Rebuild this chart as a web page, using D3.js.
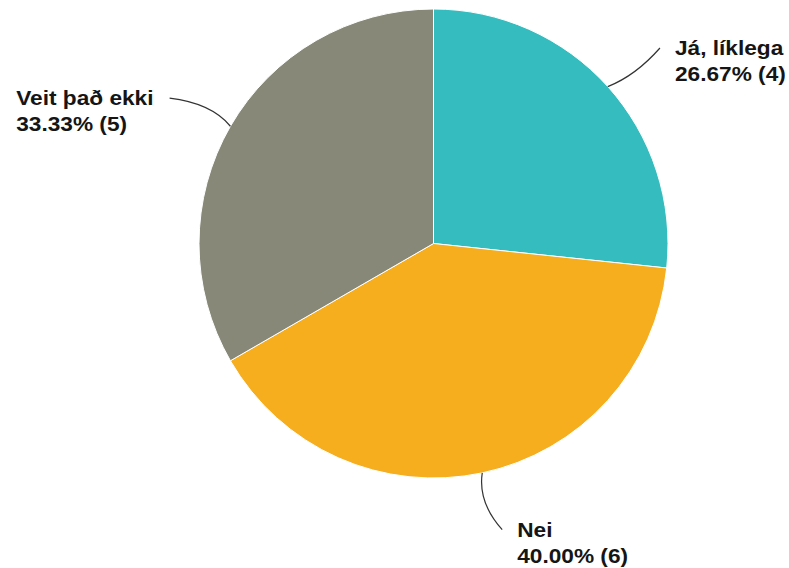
<!DOCTYPE html>
<html>
<head>
<meta charset="utf-8">
<script src="https://cdn.jsdelivr.net/npm/d3@7"></script>
<style>
  html, body { margin: 0; padding: 0; background: #fff; }
  svg { display: block; }
</style>
</head>
<body>
<div id="chart"></div>
<script>
const categories = ["Já, líklega", "Nei", "Veit það ekki"];
const counts = [4, 6, 5];
const percents = ["26.67%", "40.00%", "33.33%"];
const colors = ["#35bcbf", "#f6ae1f", "#878878"];

const width = 789;
const height = 568;
const cx = 433.5;
const cy = 243.5;
const radius = 234.5;

// small per-label nudges for the leader end points (layout only)
const nudges = [[6, 3], [7, -4], [-7, 3]];
const textScale = 1.08;

const data = categories.map((c, i) => ({ name: c, count: counts[i], pct: percents[i], color: colors[i] }));

const svg = d3.select("#chart").append("svg")
  .attr("width", width)
  .attr("height", height);

const g = svg.append("g").attr("transform", `translate(${cx},${cy})`);

const pie = d3.pie().sort(null).value(d => d.count);
const arcs = pie(data);

const arc = d3.arc().innerRadius(0).outerRadius(radius);

// slices
g.selectAll("path.slice")
  .data(arcs)
  .join("path")
  .attr("class", "slice")
  .attr("d", arc)
  .attr("fill", d => d.data.color)
  .attr("stroke", "#fff")
  .attr("stroke-width", 1);

// leader lines
const pointAt = (a, r) => [Math.sin(a) * r, -Math.cos(a) * r];

const leaders = arcs.map((d, i) => {
  const mid = (d.startAngle + d.endAngle) / 2;
  const start = pointAt(mid, radius);
  const e = pointAt(mid, radius * 1.265);
  const end = [e[0] + nudges[i][0], e[1] + nudges[i][1]];
  const ctrl = pointAt(mid + 0.04, radius * 1.12);
  return { d, mid, start, end, ctrl, right: Math.sin(mid) >= 0 };
});

g.selectAll("path.leader")
  .data(leaders)
  .join("path")
  .attr("class", "leader")
  .attr("fill", "none")
  .attr("stroke", "#333")
  .attr("stroke-width", 1.2)
  .attr("d", l => `M${l.start[0]},${l.start[1]}Q${l.ctrl[0]},${l.ctrl[1]} ${l.end[0]},${l.end[1]}`);

// labels
const labels = g.selectAll("text.label")
  .data(leaders)
  .join("text")
  .attr("class", "label")
  .style("font-family", "'Liberation Sans', Arial, sans-serif")
  .style("font-weight", "bold")
  .style("font-size", "21px")
  .style("fill", "#151515");

labels.append("tspan")
  .attr("x", 0)
  .text(l => l.d.data.name);

labels.append("tspan")
  .attr("x", 0)
  .attr("dy", 26)
  .text(l => `${l.d.data.pct} (${l.d.data.count})`);

labels.attr("transform", function(l) {
  const w = d3.max(d3.select(this).selectAll("tspan").nodes(), n => n.getComputedTextLength()) * textScale;
  const x = l.right ? l.end[0] + 15 : l.end[0] - 16 - w;
  const y = l.end[1] + 7;
  return `translate(${x},${y}) scale(${textScale},1)`;
});
</script>
</body>
</html>
